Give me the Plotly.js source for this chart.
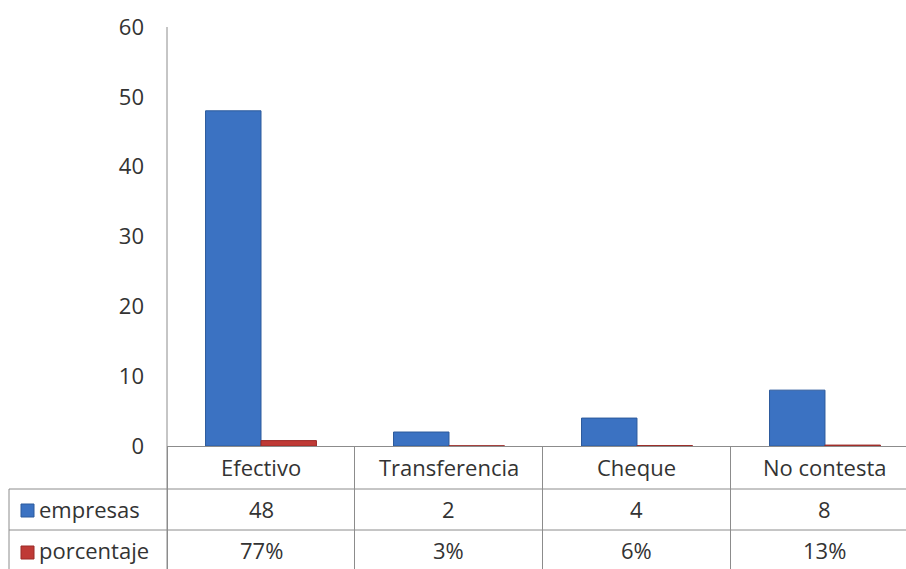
<!DOCTYPE html>
<html>
<head>
<meta charset="utf-8">
<script src="https://cdn.plot.ly/plotly-3.0.1.min.js"></script>
<style>html,body{margin:0;padding:0;background:#fff;}#chart{width:906px;height:569px;}</style>
</head>
<body>
<div id="chart"></div>
<script>
// ---- data ----
var categories = ["Efectivo", "Transferencia", "Cheque", "No contesta"];
var empresas = [48, 2, 4, 8];
var porcentaje = [0.77, 0.03, 0.06, 0.13];
var porcentajeLabels = ["77%", "3%", "6%", "13%"];
var seriesNames = ["empresas", "porcentaje"];
var yTicks = [0, 10, 20, 30, 40, 50, 60];

// ---- style ----
var FONT = "Open Sans, Noto Sans, sans-serif";
var TXT = "#333333";
var GRID = "#8c8c8c";
var BLUE = "#3b72c2";
var RED = "#bf3a36";

var traces = [
  {type: "bar", name: seriesNames[0], x: categories, y: empresas,
   marker: {color: BLUE, line: {color: "#2c5a9c", width: 1}}, hoverinfo: "x+y"},
  {type: "bar", name: seriesNames[1], x: categories, y: porcentaje,
   marker: {color: RED, line: {color: "#9a2a27", width: 1}}, hoverinfo: "x+y"}
];

// pixel helpers for table layout (plot area: x 167..906, y 27..446)
function px(p) { return (p - 167) / 739; }
function py(p) { return (446 - p) / 419; }

var shapes = [];
var lineStyle = {color: GRID, width: 1};
shapes.push({type: "line", xref: "paper", yref: "paper", x0: 0, x1: 0, y0: py(569), y1: 1, line: lineStyle});
[489, 530].forEach(function (p) {
  shapes.push({type: "line", xref: "paper", yref: "paper", x0: px(9), x1: 1, y0: py(p), y1: py(p), line: lineStyle});
});
shapes.push({type: "line", xref: "paper", yref: "paper", x0: px(9), x1: px(9), y0: py(569), y1: py(489), line: lineStyle});
shapes.push({type: "rect", xref: "paper", yref: "paper", x0: px(21), x1: px(34), y0: py(517), y1: py(504),
  fillcolor: BLUE, line: {color: "#2c5a9c", width: 1}});
shapes.push({type: "rect", xref: "paper", yref: "paper", x0: px(21), x1: px(34), y0: py(559), y1: py(546),
  fillcolor: RED, line: {color: "#9a2a27", width: 1}});

var annotations = [];
var f = {family: FONT, size: 22, color: TXT};
function ann(xref, x, y, text, xanchor) {
  return {xref: xref, yref: "paper", x: x, y: y, text: text, showarrow: false, font: f,
          xanchor: xanchor || "center", yanchor: "middle", borderpad: 0};
}
categories.forEach(function (c, i) {
  annotations.push(ann("x", c, py(467), c));
  annotations.push(ann("x", c, py(509), String(empresas[i])));
  annotations.push(ann("x", c, py(550), porcentajeLabels[i]));
});
annotations.push(ann("paper", px(38), py(509), seriesNames[0], "left"));
annotations.push(ann("paper", px(38), py(550), seriesNames[1], "left"));

var layout = {
  width: 906, height: 569,
  margin: {l: 167, r: 0, t: 27, b: 123, pad: 0},
  paper_bgcolor: "#ffffff", plot_bgcolor: "#ffffff",
  showlegend: false,
  barmode: "group", bargap: 0.41, bargroupgap: 0,
  font: {family: FONT, size: 22, color: TXT},
  xaxis: {
    type: "category", range: [-0.5, 3.431], fixedrange: true,
    showline: true, linecolor: GRID, linewidth: 1,
    showgrid: false, zeroline: false,
    tickson: "boundaries", ticks: "outside", ticklen: 123, tickcolor: GRID, tickwidth: 1,
    showticklabels: false
  },
  yaxis: {
    range: [0, 60], tickvals: yTicks, ticktext: yTicks.map(String),
    showline: false, showgrid: false, zeroline: false, ticks: "",
    ticklabelstandoff: 22, tickfont: {family: FONT, size: 22, color: TXT}, fixedrange: true
  },
  shapes: shapes,
  annotations: annotations
};

Plotly.newPlot("chart", traces, layout, {displayModeBar: false, staticPlot: true});
</script>
</body>
</html>
